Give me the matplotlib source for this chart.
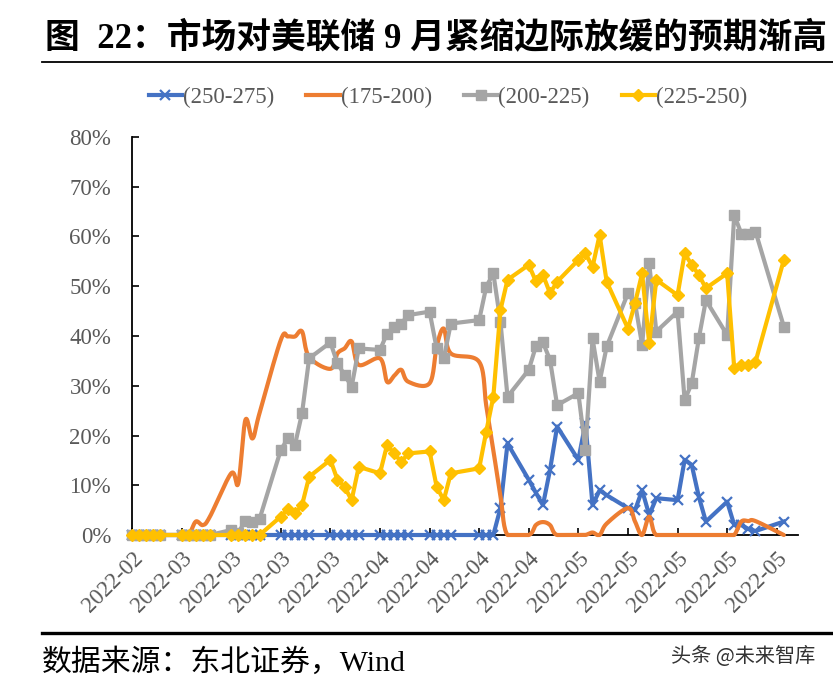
import matplotlib
matplotlib.use("Agg")
import matplotlib.pyplot as plt
import matplotlib.dates as mdates
from matplotlib.lines import Line2D
from matplotlib.ticker import FuncFormatter
import numpy as np
import pandas as pd

# ---------------- data ----------------
dates = [
    "2022-02-28", "2022-03-01", "2022-03-02", "2022-03-03", "2022-03-04",
    "2022-03-07", "2022-03-08", "2022-03-09", "2022-03-10", "2022-03-11",
    "2022-03-14", "2022-03-15", "2022-03-16", "2022-03-17", "2022-03-18",
    "2022-03-21", "2022-03-22", "2022-03-23", "2022-03-24", "2022-03-25",
    "2022-03-28", "2022-03-29", "2022-03-30", "2022-03-31", "2022-04-01",
    "2022-04-04", "2022-04-05", "2022-04-06", "2022-04-07", "2022-04-08",
    "2022-04-11", "2022-04-12", "2022-04-13", "2022-04-14",
    "2022-04-18", "2022-04-19", "2022-04-20", "2022-04-21", "2022-04-22",
    "2022-04-25", "2022-04-26", "2022-04-27", "2022-04-28", "2022-04-29",
    "2022-05-02", "2022-05-03", "2022-05-04", "2022-05-05", "2022-05-06",
    "2022-05-09", "2022-05-10", "2022-05-11", "2022-05-12", "2022-05-13",
    "2022-05-16", "2022-05-17", "2022-05-18", "2022-05-19", "2022-05-20",
    "2022-05-23", "2022-05-24", "2022-05-25", "2022-05-26", "2022-05-27",
    "2022-05-31",
]

# probabilities in %
p_250_275 = [
    0, 0, 0, 0, 0,
    0, 0, 0, 0, 0,
    0, 0, 0, 0, 0,
    0, 0, 0, 0, 0,
    0, 0, 0, 0, 0,
    0, 0, 0, 0, 0,
    0, 0, 0, 0,
    0, 0, 0, 5.4, 18.4,
    11.1, 8.5, 6.0, 13.1, 21.8,
    15.1, 22.5, 6.0, 9.0, 8.0,
    5.4, 5.0, 9.0, 4.0, 7.4,
    7.0, 15.1, 14.1, 7.7, 2.7,
    6.7, 2.0, 2.0, 1.2, 0.8,
    2.7,
]
p_175_200 = [
    0, 0, 0, 0, 0,
    0, 0, 2.7, 2.0, 3.7,
    12.4, 10.4, 23.1, 19.4, 24.5,
    39.2, 39.9, 39.9, 40.9, 35.8,
    33.4, 36.5, 37.5, 38.9, 34.2,
    35.5, 30.8, 32.0, 33.2, 30.8,
    30.5, 37.9, 41.5, 36.5,
    34.8, 26.0, 17.0, 8.0, 0,
    0, 2.0, 2.6, 2.0, 0,
    0, 0, 0.5, 0, 2.3,
    5.4, 2.7, 0, 3.7, 0,
    0, 0, 0, 0, 0,
    0, 0, 2.7, 2.8, 2.8,
    0,
]
p_200_225 = [
    0, 0, 0, 0, 0,
    0, 0, 0, 0, 0,
    1.0, 0.5, 2.8, 2.6, 3.2,
    17.1, 19.4, 18.1, 24.5, 35.5,
    38.7, 34.5, 32.2, 29.8, 37.5,
    37.2, 40.5, 41.9, 42.5, 44.2,
    44.9, 37.5, 35.5, 42.5,
    43.2, 49.9, 52.6, 42.9, 27.8,
    33.2, 37.9, 38.7, 35.2, 26.1,
    28.5, 17.1, 39.5, 30.8, 37.9,
    48.6, 46.6, 38.2, 54.6, 40.9,
    44.9, 27.1, 30.5, 39.5, 47.2,
    40.2, 64.3, 60.6, 60.6, 61.0,
    41.9,
]
p_225_250 = [
    0, 0, 0, 0, 0,
    0, 0, 0, 0, 0,
    0, 0, 0, 0, 0,
    3.7, 5.2, 4.4, 6.0, 11.7,
    15.1, 11.1, 9.7, 7.0, 13.7,
    12.4, 18.1, 16.4, 14.7, 16.4,
    16.8, 9.7, 7.0, 12.4,
    13.4, 20.8, 27.8, 45.2, 51.3,
    54.3, 51.0, 52.3, 48.6, 50.9,
    55.3, 56.6, 53.9, 60.3, 50.9,
    41.5, 46.6, 52.6, 38.5, 51.3,
    48.2, 56.6, 54.3, 52.3, 49.6,
    52.6, 33.5, 34.2, 34.2, 34.8,
    55.3,
]
labels = ["(250-275)", "(175-200)", "(200-225)", "(225-250)"]
title = "图  22：市场对美联储 9 月紧缩边际放缓的预期渐高"
source = "数据来源：东北证券，Wind"
watermark = "头条 @未来智库"

# ---------------- helpers ----------------
def smooth(x, y, n=16):
    """Catmull-Rom smoothing (like Excel's smoothed line)."""
    x = np.asarray(x, float)
    y = np.asarray(y, float)
    px = np.concatenate([[x[0]], x, [x[-1]]])
    py = np.concatenate([[y[0]], y, [y[-1]]])
    xs, ys = [], []
    t = np.linspace(0, 1, n, endpoint=False)
    for i in range(1, len(px) - 2):
        for P, out in ((px, xs), (py, ys)):
            p0, p1, p2, p3 = P[i - 1], P[i], P[i + 1], P[i + 2]
            out.extend(0.5 * (2 * p1 + (-p0 + p2) * t
                              + (2 * p0 - 5 * p1 + 4 * p2 - p3) * t ** 2
                              + (-p0 + 3 * p1 - 3 * p2 + p3) * t ** 3))
    xs.append(x[-1]); ys.append(y[-1])
    return np.array(xs), np.maximum(np.array(ys), 0)

# ---------------- figure ----------------
W, H = 833, 683
fig = plt.figure(figsize=(W / 100, H / 100), dpi=100)
fig.patch.set_facecolor("white")

serif = ["Liberation Serif", "Noto Sans CJK SC"]
gray_txt = "#595959"
fs = 16.5

ax = fig.add_axes([132 / W, 1 - 535 / H, (798 - 132) / W, (535 - 137) / H])

x = mdates.date2num(pd.to_datetime(dates))

c_blue, c_orange, c_gray, c_yellow = "#4472C4", "#ED7D31", "#A5A5A5", "#FFC000"
lw = 3.0

ax.plot(x, p_250_275, color=c_blue, lw=lw, marker="x", ms=7, mew=1.6,
        zorder=2, clip_on=False)
sx, sy = smooth(x, p_175_200)
ax.plot(sx, sy, color=c_orange, lw=lw, zorder=3, clip_on=False,
        solid_capstyle="round")
ax.plot(x, p_200_225, color=c_gray, lw=lw, marker="s", ms=7.5, zorder=4,
        clip_on=False)
ax.plot(x, p_225_250, color=c_yellow, lw=lw, marker="D", ms=6.5, zorder=5,
        clip_on=False)

ax.set_ylim(0, 80)
ax.set_yticks(np.arange(0, 81, 10))
ax.yaxis.set_major_formatter(FuncFormatter(lambda v, p: f"{v:.0f}%"))
ax.set_xlim(mdates.datestr2num("2022-02-28"), mdates.datestr2num("2022-06-02"))
ax.xaxis.set_major_locator(mdates.WeekdayLocator(byweekday=mdates.MO))
ax.xaxis.set_major_formatter(mdates.DateFormatter("%Y-%m"))

for s in ("top", "right"):
    ax.spines[s].set_visible(False)
for s in ("left", "bottom"):
    ax.spines[s].set_color("black")
    ax.spines[s].set_linewidth(1.3)
    ax.spines[s].set_zorder(1)

ax.tick_params(axis="both", direction="in", length=5, width=1.2, color="black",
               labelcolor=gray_txt)
ax.tick_params(axis="y", pad=15)
ax.tick_params(axis="x", pad=9)
for lab in ax.get_yticklabels():
    lab.set_fontfamily(serif)
    lab.set_fontsize(fs)
for lab in ax.get_xticklabels():
    lab.set_fontfamily(serif)
    lab.set_fontsize(fs)
    lab.set_rotation(45)
    lab.set_ha("right")
    lab.set_va("top")
    lab.set_rotation_mode("anchor")

# legend
handles = [
    Line2D([], [], color=c_blue, lw=lw, marker="x", ms=7, mew=1.6),
    Line2D([], [], color=c_orange, lw=lw),
    Line2D([], [], color=c_gray, lw=lw, marker="s", ms=7.5),
    Line2D([], [], color=c_yellow, lw=lw, marker="D", ms=6.5),
]
fig.legend(handles, labels, loc="center", bbox_to_anchor=(448 / W, 1 - 97 / H),
           ncol=4, frameon=False, prop={"family": serif, "size": fs},
           labelcolor=gray_txt, handlelength=1.45, handletextpad=0.05,
           columnspacing=1.4)

# title, rules, footer
fig.text(45 / W, 1 - 38 / H, title, family=serif, weight="bold", size=25,
         va="center", ha="left", color="black")
fig.add_artist(Line2D([42 / W, 1.0], [1 - 62 / H] * 2, color="black", lw=1.3))
fig.add_artist(Line2D([42 / W, 1.0], [1 - 633 / H] * 2, color="black", lw=2.4))
fig.text(42 / W, 1 - 662 / H, source, family=serif, size=21.5, va="center",
         ha="left", color="black")
fig.text(815 / W, 1 - 656 / H, watermark, family=["Noto Sans CJK SC"], size=14.5,
         va="center", ha="right", color="#333333")

fig.savefig("out.png", dpi=100, facecolor="white")
